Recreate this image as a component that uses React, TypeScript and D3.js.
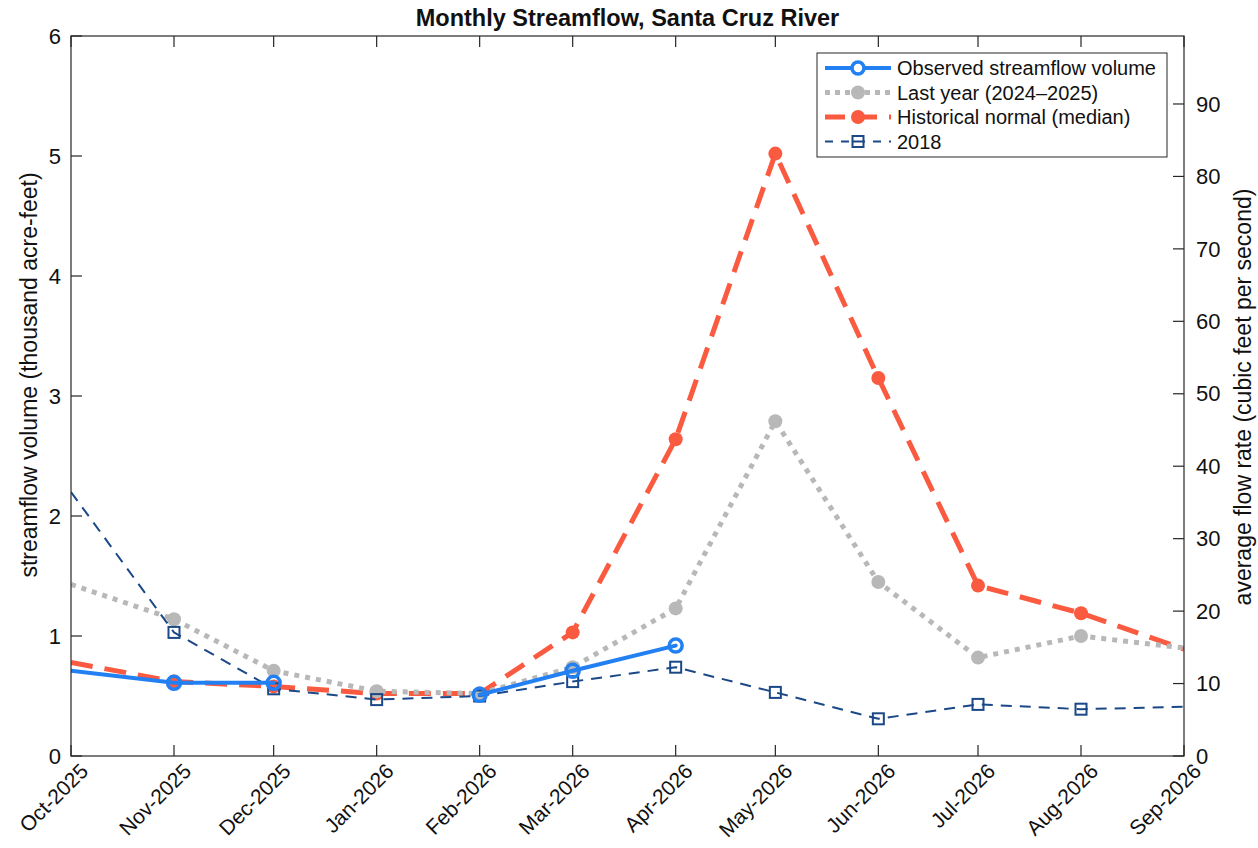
import { useEffect, useRef } from "react";
import * as d3 from "d3";

// monthly values, thousand acre-feet (NaN = no data)
const MONTHS = [
  "2025-10", "2025-11", "2025-12", "2026-01", "2026-02", "2026-03",
  "2026-04", "2026-05", "2026-06", "2026-07", "2026-08", "2026-09",
];
const MONTH_LABELS = [
  "Oct-2025", "Nov-2025", "Dec-2025", "Jan-2026", "Feb-2026", "Mar-2026",
  "Apr-2026", "May-2026", "Jun-2026", "Jul-2026", "Aug-2026", "Sep-2026",
];
const OBSERVED = [0.71, 0.61, 0.61, NaN, 0.51, 0.71, 0.92, NaN, NaN, NaN, NaN, NaN];
const LAST_YEAR = [1.43, 1.14, 0.71, 0.54, 0.52, 0.74, 1.23, 2.79, 1.45, 0.82, 1.0, 0.9];
const NORMAL = [0.78, 0.62, 0.58, 0.52, 0.52, 1.03, 2.64, 5.02, 3.15, 1.42, 1.19, 0.89];
const YEAR_2018 = [2.2, 1.03, 0.56, 0.47, 0.5, 0.62, 0.74, 0.53, 0.31, 0.43, 0.39, 0.41];
const LEFT_TICKS = [0, 1, 2, 3, 4, 5, 6];
const RIGHT_TICKS = [0, 10, 20, 30, 40, 50, 60, 70, 80, 90];

// 1000 acre-feet per average month -> cfs
const KAF_TO_CFS = 43560000 / (365.25 / 12 * 86400);

const W = 1258;
const H = 848;
const M = { left: 71, right: 74, top: 36, bottom: 92 };
const FONT = "'Liberation Sans', Arial, Helvetica, sans-serif";
const AX = "#262626";

interface Series {
  name: string;
  values: number[];
  color: string;
  width: number;
  dash: string | null;
  legendDash: string | null;
  cap: string;
  marker: "ring" | "dot" | "square";
}

const SERIES: Series[] = [
  { name: "Observed streamflow volume", values: OBSERVED, color: "#2280F2", width: 4, dash: null, legendDash: null, cap: "round", marker: "ring" },
  { name: "Last year (2024\u20132025)", values: LAST_YEAR, color: "#B8B8B8", width: 5, dash: "5,6", legendDash: "5,5", cap: "butt", marker: "dot" },
  { name: "Historical normal (median)", values: NORMAL, color: "#FA5A3F", width: 5, dash: "22,12", legendDash: "20,12", cap: "butt", marker: "dot" },
  { name: "2018", values: YEAR_2018, color: "#1B4886", width: 2, dash: "11,8", legendDash: "8,8", cap: "butt", marker: "square" },
];
const DRAW_ORDER = [2, 1, 3, 0];

export default function App() {
  const ref = useRef<SVGSVGElement>(null);

  useEffect(() => {
    if (!ref.current) return;
    const svg = d3.select(ref.current);
    svg.selectAll("*").remove();

    const dates = MONTHS.map((m) => new Date(m + "-01T00:00:00Z"));
    const x = d3.scaleUtc().domain([dates[0], dates[dates.length - 1]]).range([M.left, W - M.right]);
    const y = d3.scaleLinear().domain([0, 6]).range([H - M.bottom, M.top]);
    const yR = d3.scaleLinear().domain([0, 6 * KAF_TO_CFS]).range([H - M.bottom, M.top]);
    const x0 = M.left, x1 = W - M.right, y0 = H - M.bottom, y1 = M.top;

    svg.append("rect").attr("width", W).attr("height", H).attr("fill", "#fff");

    svg.append("defs").append("clipPath").attr("id", "plotclip")
      .append("rect").attr("x", x0).attr("y", y1).attr("width", x1 - x0).attr("height", y0 - y1);

    const plot = svg.append("g").attr("clip-path", "url(#plotclip)");

    DRAW_ORDER.forEach((i) => {
      const s = SERIES[i];
      const pts = s.values.map((v, k) => ({ d: dates[k], v }));
      const line = d3.line<{ d: Date; v: number }>()
        .defined((p) => !isNaN(p.v))
        .x((p) => x(p.d))
        .y((p) => y(p.v));
      plot.append("path")
        .attr("d", line(pts))
        .attr("fill", "none")
        .attr("stroke", s.color)
        .attr("stroke-width", s.width)
        .attr("stroke-dasharray", s.dash)
        .attr("stroke-linecap", s.cap)
        .attr("stroke-linejoin", "round");

      // edge months carry the line only, markers sit on interior months
      const inner = pts.filter((p, k) => !isNaN(p.v) && k > 0 && k < pts.length - 1);
      if (s.marker === "square") {
        plot.selectAll(null).data(inner).enter().append("rect")
          .attr("x", (p) => x(p.d) - 5.5).attr("y", (p) => y(p.v) - 5.5)
          .attr("width", 11).attr("height", 11)
          .attr("fill", "none").attr("stroke", s.color).attr("stroke-width", 2);
      } else {
        plot.selectAll(null).data(inner).enter().append("circle")
          .attr("cx", (p) => x(p.d)).attr("cy", (p) => y(p.v))
          .attr("r", s.marker === "ring" ? 6.5 : 7)
          .attr("fill", s.marker === "ring" ? "none" : s.color)
          .attr("stroke", s.color)
          .attr("stroke-width", s.marker === "ring" ? 3.5 : 0);
      }
    });

    // frame and ticks
    const axes = svg.append("g").attr("stroke", AX).attr("stroke-width", 1.2).attr("fill", "none");
    axes.append("rect").attr("x", x0).attr("y", y1).attr("width", x1 - x0).attr("height", y0 - y1);
    dates.forEach((d) => {
      axes.append("line").attr("x1", x(d)).attr("x2", x(d)).attr("y1", y0).attr("y2", y0 - 11);
      axes.append("line").attr("x1", x(d)).attr("x2", x(d)).attr("y1", y1).attr("y2", y1 + 11);
    });
    LEFT_TICKS.forEach((t) => {
      axes.append("line").attr("x1", x0).attr("x2", x0 + 11).attr("y1", y(t)).attr("y2", y(t));
    });
    RIGHT_TICKS.forEach((t) => {
      axes.append("line").attr("x1", x1).attr("x2", x1 - 11).attr("y1", yR(t)).attr("y2", yR(t));
    });

    const txt = svg.append("g").attr("font-family", FONT).attr("fill", "#111");
    LEFT_TICKS.forEach((t) => {
      txt.append("text").attr("x", x0 - 10).attr("y", y(t)).attr("dy", "0.35em")
        .attr("text-anchor", "end").attr("font-size", 22).text(t);
    });
    RIGHT_TICKS.forEach((t) => {
      txt.append("text").attr("x", x1 + 12).attr("y", yR(t)).attr("dy", "0.35em")
        .attr("text-anchor", "start").attr("font-size", 22).text(t);
    });
    dates.forEach((d, k) => {
      txt.append("text")
        .attr("transform", `translate(${x(d) + 8},${y0 + 6}) rotate(-45)`)
        .attr("text-anchor", "end").attr("dy", "0.7em").attr("font-size", 21)
        .text(MONTH_LABELS[k]);
    });

    txt.append("text").attr("x", (x0 + x1) / 2).attr("y", 26).attr("text-anchor", "middle")
      .attr("font-size", 23.5).attr("font-weight", "bold").text("Monthly Streamflow, Santa Cruz River");
    txt.append("text").attr("transform", `translate(37,${(y0 + y1) / 2 - 21}) rotate(-90)`)
      .attr("text-anchor", "middle").attr("font-size", 23).text("streamflow volume (thousand acre-feet)");
    txt.append("text").attr("transform", `translate(1235,${(y0 + y1) / 2 + 1}) rotate(-90)`)
      .attr("text-anchor", "middle").attr("dy", "0.7em").attr("font-size", 23)
      .text("average flow rate (cubic feet per second)");

    // legend
    const lg = svg.append("g").attr("transform", "translate(817,53)");
    lg.append("rect").attr("width", 350).attr("height", 104).attr("fill", "#fff")
      .attr("stroke", AX).attr("stroke-width", 1);
    SERIES.forEach((s, i) => {
      const ly = 15 + i * 24.5;
      lg.append("line").attr("x1", 8).attr("x2", 74).attr("y1", ly).attr("y2", ly)
        .attr("stroke", s.color).attr("stroke-width", s.width)
        .attr("stroke-dasharray", s.legendDash);
      if (s.marker === "square") {
        lg.append("rect").attr("x", 41 - 5.5).attr("y", ly - 5.5).attr("width", 11).attr("height", 11)
          .attr("fill", "#fff").attr("stroke", s.color).attr("stroke-width", 2);
        lg.append("line").attr("x1", 35).attr("x2", 47).attr("y1", ly).attr("y2", ly)
          .attr("stroke", s.color).attr("stroke-width", 2);
      } else {
        lg.append("circle").attr("cx", 41).attr("cy", ly).attr("r", s.marker === "ring" ? 6 : 7)
          .attr("fill", s.marker === "ring" ? "#fff" : s.color)
          .attr("stroke", s.color).attr("stroke-width", s.marker === "ring" ? 3.5 : 0);
      }
      lg.append("text").attr("x", 80).attr("y", ly).attr("dy", "0.35em")
        .attr("font-family", FONT).attr("font-size", 20).attr("fill", "#111").text(s.name);
    });
  }, []);

  return (
    <svg ref={ref} width={W} height={H}
      style={{ position: "absolute", left: 0, top: 0, display: "block" }} />
  );
}
